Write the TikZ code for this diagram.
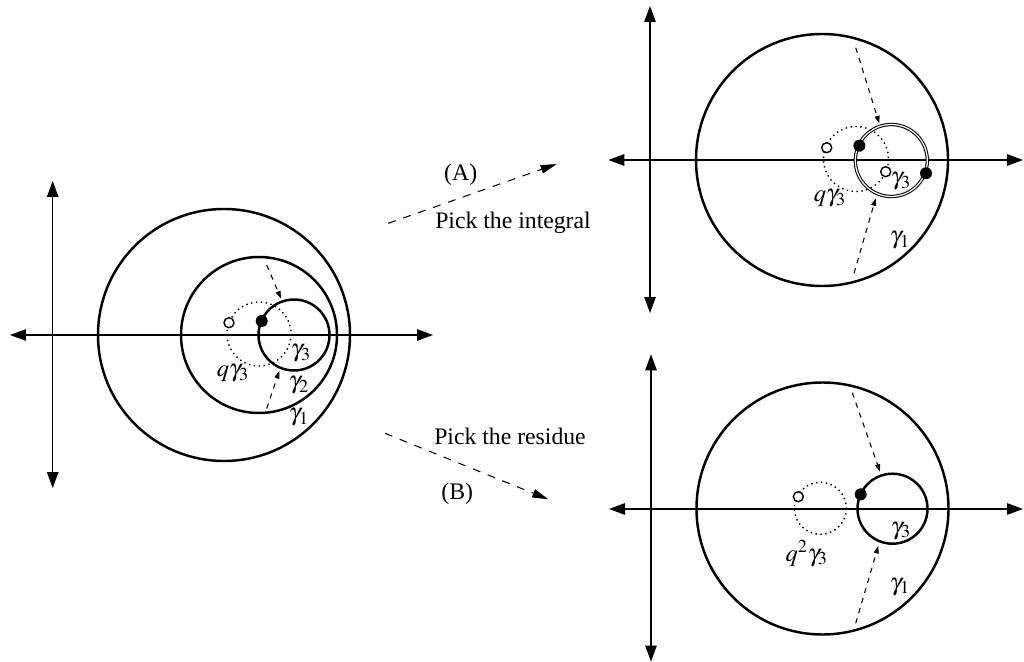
\documentclass[tikz,border=0pt]{standalone}
\usepackage{mathptmx}
\usepackage{fontspec}
\setmainfont{Liberation Serif}
\usetikzlibrary{arrows.meta}

\begin{document}
\begin{tikzpicture}[x=0.02cm, y=-0.02cm, >=Triangle,
    axis/.style={line width=0.6pt, {Triangle[length=0.32cm,width=0.23cm]}-{Triangle[length=0.32cm,width=0.23cm]}},
    contour/.style={line width=1.4pt},
    shifted/.style={line width=0.8pt, dotted},
    pushes/.style={dashed, line width=0.6pt, -{Triangle[length=0.15cm,width=0.1cm]}},
    picks/.style={dash pattern=on 4.5pt off 4.5pt, line width=0.6pt, -{Triangle[length=0.32cm,width=0.17cm]}},
    fdot/.style={circle, fill=black, inner sep=0pt, minimum size=0.24cm},
    odot/.style={circle, draw=black, fill=white, line width=0.8pt, inner sep=0pt, minimum size=0.2cm},
    lbl/.style={inner sep=0pt, font=\fontsize{14}{16}\selectfont},
    txt/.style={inner sep=0pt, font=\fontsize{13.5}{16}\selectfont}]
    \useasboundingbox (0,0) rectangle (1024,662);

    % left plane
    \draw[axis] (10,335) -- (433,335);
    \draw[axis] (52.7,181) -- (52.7,488);
    \draw[contour] (224,335) circle[radius=126];
    \draw[contour] (259,335) circle[radius=78];
    \draw[contour] (294,335) circle[radius=35.5];
    \draw[shifted] (259,334) circle[radius=32];
    \node[odot] (lopen) at (229,322.7) {};
    \node[fdot] (lpole) at (261.7,321) {};
    \coordinate (ltopS) at (266.7,265);
    \coordinate (ltopE) at (281,298.5);
    \coordinate (lbotS) at (266.7,408.5);
    \coordinate (lbotE) at (279.3,371);
    \draw[pushes] (ltopS) -- (ltopE);
    \draw[pushes] (lbotS) -- (lbotE);
    \node[lbl] (lg3) at (301,353) {$\gamma_3$};
    \node[lbl] (lg2) at (299,385) {$\gamma_2$};
    \node[lbl] (lg1) at (299,417) {$\gamma_1$};
    \node[lbl] (lqg3) at (233,373) {$q\gamma_3$};

    % choices
    \coordinate (aS) at (388.3,223.3);
    \coordinate (aE) at (556.7,164);
    \draw[picks] (aS) -- (aE);
    \node[txt] (alab) at (460.7,175) {(A)};
    \node[txt] (atxt) at (513,223.3) {Pick the integral};
    \coordinate (bS) at (385,433.3);
    \coordinate (bE) at (548.3,499.3);
    \draw[picks] (bS) -- (bE);
    \node[txt] (btxt) at (510,436.7) {Pick the residue};
    \node[txt] (blab) at (457.3,493.3) {(B)};

    % top right plane
    \draw[axis] (608.3,160) -- (1023,160);
    \draw[axis] (650,6) -- (650,313);
    \draw[contour] (822,160) circle[radius=126];
    \draw[line width=0.6pt, double, double distance=0.7pt] (891.3,160.5) circle[radius=36];
    \draw[shifted] (856,159) circle[radius=32.5];
    \node[odot] (aopen1) at (826.7,147.7) {};
    \node[odot] (aopen2) at (885.7,171.7) {};
    \node[fdot] (apole1) at (859.3,145.7) {};
    \node[fdot] (apole2) at (926,173.3) {};
    \coordinate (atopS) at (855.7,47.7);
    \coordinate (atopE) at (879.3,123.3);
    \coordinate (abotS) at (854,273.3);
    \coordinate (abotE) at (875.7,198.3);
    \draw[pushes] (atopS) -- (atopE);
    \draw[pushes] (abotS) -- (abotE);
    \node[lbl] (ag3) at (901,181.7) {$\gamma_3$};
    \node[lbl] (aqg3) at (830,198.3) {$q\gamma_3$};
    \node[lbl] (ag1) at (900,240) {$\gamma_1$};

    % bottom right plane
    \draw[axis] (609,509) -- (1023,509);
    \draw[axis] (651,354.3) -- (651,661.5);
    \draw[contour] (822.5,508.5) circle[radius=126];
    \draw[contour] (892.5,508.7) circle[radius=35];
    \draw[shifted] (820.3,508.3) circle[radius=26];
    \node[odot] (bopen) at (798.3,496.7) {};
    \node[fdot] (bpole) at (860.7,494.3) {};
    \coordinate (btopS) at (852.3,392.7);
    \coordinate (btopE) at (880,471.7);
    \coordinate (bbotS) at (855.7,623.3);
    \coordinate (bbotE) at (878.3,546);
    \draw[pushes] (btopS) -- (btopE);
    \draw[pushes] (bbotS) -- (bbotE);
    \node[lbl] (bg3) at (901,530.7) {$\gamma_3$};
    \node[lbl] (bqg3) at (806.7,553.3) {$q^2\gamma_3$};
    \node[lbl] (bg1) at (900,586.7) {$\gamma_1$};
\end{tikzpicture}
\end{document}
